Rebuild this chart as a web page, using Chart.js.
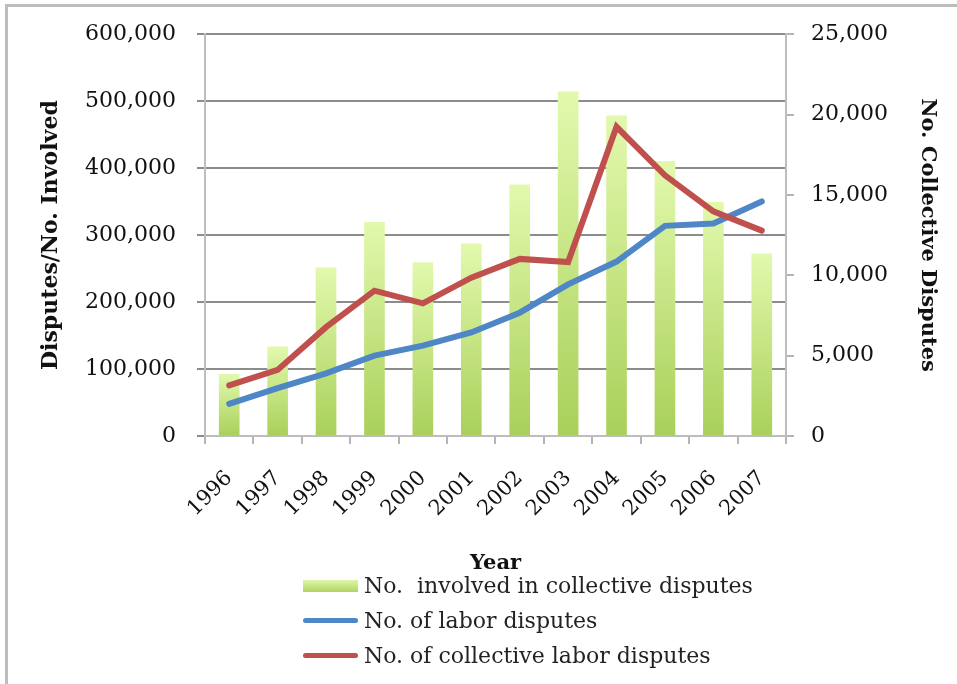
<!DOCTYPE html>
<html>
<head>
<meta charset="utf-8">
<script src="https://cdn.jsdelivr.net/npm/chart.js@4.4.1/dist/chart.umd.min.js"></script>
<style>
  html, body { margin: 0; padding: 0; background: #fff; overflow: hidden; }
  #frame {
    position: absolute; left: 5px; top: 4px; width: 952px; height: 680px;
    border-left: 3px solid #bdbdbd; border-top: 3px solid #bdbdbd;
    box-sizing: border-box;
  }
  #chartBox { position: absolute; left: 0; top: 0; width: 957px; height: 580px; }
  #legend {
    position: absolute; left: 303px; top: 568px;
    font-family: "DejaVu Serif", serif; font-size: 22px; color: #222;
  }
  .item { display: flex; align-items: center; height: 35px; white-space: pre; }
  .swatch { width: 55px; margin-right: 6px; }
  .bar-swatch { height: 12px; background: linear-gradient(#dff6a6, #b0d466); }
  .line-swatch { height: 5px; border-radius: 3px; }
</style>
</head>
<body>
<div id="frame"></div>
<div id="chartBox"><canvas id="chart"></canvas></div>
<div id="legend"></div>

<script>
const years = ["1996", "1997", "1998", "1999", "2000", "2001", "2002", "2003", "2004", "2005", "2006", "2007"];
const involved = [92000, 133000, 251000, 319000, 259000, 287000, 375000, 514000, 478000, 410000, 349000, 272000];
const laborDisputes = [48000, 71500, 93600, 120000, 135000, 154600, 184100, 226400, 260500, 313800, 317200, 350200];
const collectiveDisputes = [3150, 4110, 6770, 9040, 8250, 9850, 11020, 10820, 19240, 16220, 13980, 12780];

const blue = "#4f86c6";
const red = "#c0504d";
const serif = "'DejaVu Serif', serif";

// each bar gets its own light-top / green-bottom gradient
function barFill(context) {
  const chart = context.chart;
  const y = chart.scales.y;
  if (!y || context.parsed === undefined) return "#c4e27c";
  const top = y.getPixelForValue(context.parsed.y);
  const bottom = y.getPixelForValue(0);
  if (!isFinite(top) || top === bottom) return "#c4e27c";
  const g = chart.ctx.createLinearGradient(0, top, 0, bottom);
  g.addColorStop(0, "#e2f9ad");
  g.addColorStop(1, "#a9d05a");
  return g;
}

const fmt = v => Number(v).toLocaleString("en-US");

new Chart(document.getElementById("chart"), {
  type: "bar",
  data: {
    labels: years,
    datasets: [
      {
        label: "No.  involved in collective disputes",
        data: involved,
        backgroundColor: barFill,
        barThickness: 20,
        yAxisID: "y",
        order: 3
      },
      {
        type: "line",
        label: "No. of labor disputes",
        data: laborDisputes,
        borderColor: blue,
        borderWidth: 6,
        pointRadius: 0,
        tension: 0,
        borderCapStyle: "round",
        yAxisID: "y",
        order: 2
      },
      {
        type: "line",
        label: "No. of collective labor disputes",
        data: collectiveDisputes,
        borderColor: red,
        borderWidth: 6,
        pointRadius: 0,
        tension: 0,
        borderCapStyle: "round",
        yAxisID: "y1",
        order: 1
      }
    ]
  },
  options: {
    responsive: true,
    maintainAspectRatio: false,
    animation: false,
    layout: { padding: { top: 34, left: 0, right: 0, bottom: 0 } },
    plugins: { legend: { display: false }, tooltip: { enabled: false } },
    scales: {
      x: {
        offset: true,
        grid: { offset: true, drawOnChartArea: false, color: "#b5b5b5", lineWidth: 2, tickLength: 8 },
        border: { color: "#bdbdbd", width: 2 },
        ticks: {
          minRotation: 45, maxRotation: 45, padding: 22,
          color: "#111", font: { family: serif, size: 21 }
        },
        title: {
          display: true, text: "Year", color: "#111",
          font: { family: serif, size: 21, weight: "bold" },
          padding: { top: 0, bottom: 4 }
        },
        afterFit: s => { s.height = 144; }
      },
      y: {
        position: "left",
        min: 0, max: 600000,
        grid: { color: "#8c8c8c", lineWidth: 2, tickLength: 8 },
        border: { color: "#bdbdbd", width: 2 },
        ticks: {
          stepSize: 100000, padding: 21, color: "#111",
          font: { family: serif, size: 22 },
          callback: fmt
        },
        title: {
          display: true, text: "Disputes/No. Involved", color: "#111",
          font: { family: serif, size: 22, weight: "bold" },
          padding: { top: 38, bottom: 0 }
        },
        afterFit: s => { s.width = 205; }
      },
      y1: {
        position: "right",
        min: 0, max: 25000,
        grid: { drawOnChartArea: false, color: "#b5b5b5", lineWidth: 2, tickLength: 8 },
        border: { color: "#bdbdbd", width: 2 },
        ticks: {
          stepSize: 5000, padding: 17, color: "#111",
          font: { family: serif, size: 22 },
          callback: fmt
        },
        title: {
          display: true, text: "No. Collective Disputes", color: "#111",
          font: { family: serif, size: 21, weight: "bold" },
          padding: { top: 17, bottom: 0 }
        },
        afterFit: s => { s.width = 171; }
      }
    }
  }
});

// legend stacked under the axis title
const legendItems = [
  { text: "No.  involved in collective disputes", cls: "bar-swatch", color: null },
  { text: "No. of labor disputes", cls: "line-swatch", color: blue },
  { text: "No. of collective labor disputes", cls: "line-swatch", color: red }
];
document.getElementById("legend").innerHTML = legendItems.map(it => `
  <div class="item">
    <div class="swatch ${it.cls}"${it.color ? ` style="background:${it.color}"` : ""}></div>
    <span>${it.text}</span>
  </div>`).join("");
</script>
</body>
</html>
